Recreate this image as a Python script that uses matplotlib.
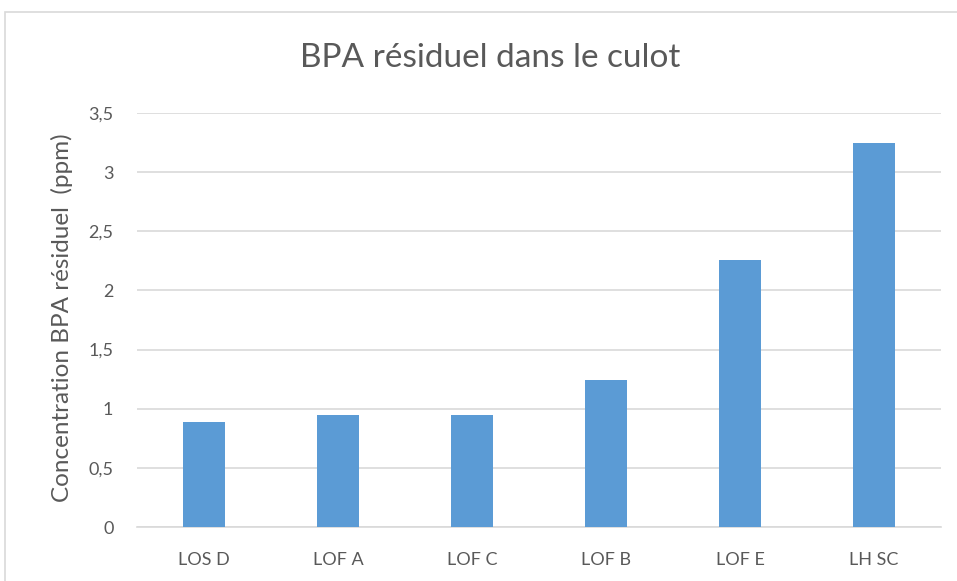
import matplotlib.pyplot as plt
from matplotlib.patches import Rectangle
from matplotlib.ticker import FuncFormatter, MultipleLocator

categories = ["LOS D", "LOF A", "LOF C", "LOF B", "LOF E", "LH SC"]
values = [0.89, 0.95, 0.95, 1.24, 2.26, 3.25]

plt.rcParams['font.family'] = ['Lato', 'DejaVu Sans']
gray = '#595959'

W, H = 957, 581
fig = plt.figure(figsize=(W / 100, H / 100), dpi=100)
ax = fig.add_axes([137 / W, (H - 527) / H, (941 - 137) / W, (527 - 113) / H])

x = range(len(categories))
ax.bar(x, values, width=0.31, color='#5b9bd5', zorder=3)
ax.set_xlim(-0.5, len(categories) - 0.5)
ax.set_ylim(0, 3.5)
ax.yaxis.set_major_locator(MultipleLocator(0.5))
ax.yaxis.set_major_formatter(FuncFormatter(lambda v, p: f"{v:g}".replace('.', ',')))
ax.set_xticks(list(x))
ax.set_xticklabels(categories)
ax.tick_params(axis='both', length=0, labelsize=13, colors=gray)
ax.tick_params(axis='x', pad=18)
ax.tick_params(axis='y', pad=17)
ax.grid(axis='y', color='#d9d9d9', linewidth=1.2, zorder=0)
for s in ['top', 'right', 'left']:
    ax.spines[s].set_visible(False)
ax.spines['bottom'].set_color('#d9d9d9')
ax.spines['bottom'].set_linewidth(1.2)

ax.set_ylabel("Concentration BPA résiduel  (ppm)", fontsize=17.5, color=gray)
ax.yaxis.set_label_coords(-0.080, 0.506)
fig.text(490 / W, 1 - 58 / H, "BPA résiduel dans le culot", fontsize=24,
         color=gray, ha='center', va='center')

fig.patches.append(Rectangle((5 / W, -0.1), 1.1, (H - 12) / H + 0.1, transform=fig.transFigure,
                             fill=False, edgecolor='#d9d9d9', linewidth=1.2))

fig.savefig('out.png', dpi=100)
